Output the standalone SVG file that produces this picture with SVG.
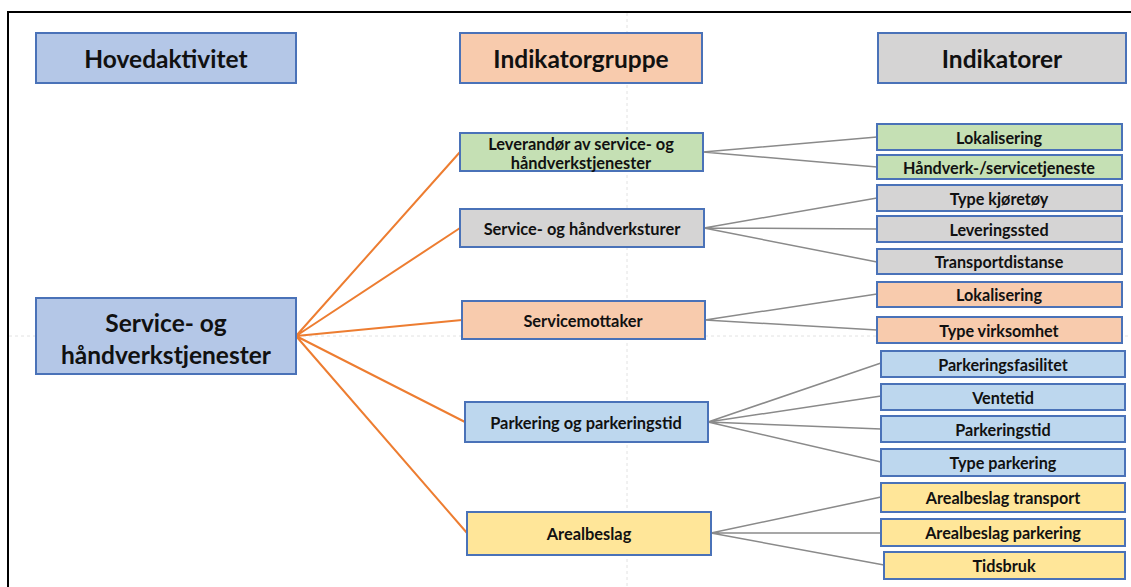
<svg xmlns="http://www.w3.org/2000/svg" width="1131" height="587" viewBox="0 0 1131 587">
<style>
.box{stroke:#4a72b8;stroke-width:2}
.blue{fill:#b4c7e7}.lblue{fill:#bdd7ee}.orange{fill:#f8cbad}.gray{fill:#d5d4d4}.green{fill:#c5e0b4}.yellow{fill:#ffe699}
text{font-family:Lato,"Liberation Sans",sans-serif;font-weight:700;fill:#111;text-anchor:middle;dominant-baseline:central}
.h{font-size:24.5px;font-weight:700}
.m{font-size:24.5px}
.g{font-size:16.4px}
.i{font-size:16.2px}
.oc{stroke:#ed7d31;stroke-width:2;fill:none}
.gc{stroke:#8a8a8a;stroke-width:1.5;fill:none}
.guide{stroke:#e2e2e2;stroke-width:1;stroke-dasharray:3 3}
</style>
<rect width="1131" height="587" fill="#fff"/>
<g id="guides">
<line class="guide" x1="627" y1="13" x2="627" y2="587"/>
<line class="guide" x1="9" y1="336" x2="1131" y2="336"/>
</g>
<path d="M8,587 V12 H1131" fill="none" stroke="#000" stroke-width="2"/>
<g id="connectors">
<path class="oc" d="M296,336 L460,152 M296,336 L460,228 M296,336 L462,320 M296,336 L465,422 M296,336 L467,533"/>
<path class="gc" d="M703,152 L877,137 M703,152 L877,167"/>
<path class="gc" d="M704,228 L877,198 M704,228 L877,229 M704,228 L877,262"/>
<path class="gc" d="M705,320 L877,294 M705,320 L877,330"/>
<path class="gc" d="M708,422 L881,363 M708,422 L881,396 M708,422 L881,429 M708,422 L881,462"/>
<path class="gc" d="M711,533 L881,497 M711,533 L881,533 M711,533 L884,565"/>
</g>
<g id="hdr1"><rect class="box blue" x="36" y="33" width="260" height="50"/><text class="h" x="166" y="58">Hovedaktivitet</text></g>
<g id="hdr2"><rect class="box orange" x="460" y="33" width="242" height="50"/><text class="h" x="581" y="58">Indikatorgruppe</text></g>
<g id="hdr3"><rect class="box gray" x="878" y="33" width="248" height="50"/><text class="h" x="1002" y="58">Indikatorer</text></g>
<g id="main"><rect class="box blue" x="36" y="298" width="260" height="76"/><text class="m" x="166" y="322">Service- og</text><text class="m" x="166" y="354">håndverkstjenester</text></g>
<g id="grp1"><rect class="box green" x="460" y="133" width="243" height="38"/><text class="g" x="581" y="143">Leverandør av service- og</text><text class="g" x="581" y="162">håndverkstjenester</text></g>
<g id="grp2"><rect class="box gray" x="460" y="209" width="244" height="38"/><text class="g" x="582" y="228">Service- og håndverksturer</text></g>
<g id="grp3"><rect class="box orange" x="462" y="301" width="243" height="38"/><text class="g" x="583" y="320">Servicemottaker</text></g>
<g id="grp4"><rect class="box lblue" x="465" y="402" width="243" height="40"/><text class="g" x="586" y="422">Parkering og parkeringstid</text></g>
<g id="grp5"><rect class="box yellow" x="467" y="512" width="244" height="43"/><text class="g" x="589" y="533">Arealbeslag</text></g>
<g id="i1"><rect class="box green" x="877" y="124" width="245" height="26"/><text class="i" x="999" y="137">Lokalisering</text></g>
<g id="i2"><rect class="box green" x="877" y="155" width="245" height="24"/><text class="i" x="999" y="167">Håndverk-/servicetjeneste</text></g>
<g id="i3"><rect class="box gray" x="877" y="185" width="245" height="26"/><text class="i" x="999" y="198">Type kjøretøy</text></g>
<g id="i4"><rect class="box gray" x="877" y="216" width="245" height="26"/><text class="i" x="999" y="229">Leveringssted</text></g>
<g id="i5"><rect class="box gray" x="877" y="249" width="245" height="25"/><text class="i" x="999" y="261">Transportdistanse</text></g>
<g id="i6"><rect class="box orange" x="877" y="282" width="245" height="25"/><text class="i" x="999" y="294">Lokalisering</text></g>
<g id="i7"><rect class="box orange" x="877" y="317" width="245" height="26"/><text class="i" x="999" y="330">Type virksomhet</text></g>
<g id="i8"><rect class="box lblue" x="881" y="351" width="244" height="26"/><text class="i" x="1003" y="364">Parkeringsfasilitet</text></g>
<g id="i9"><rect class="box lblue" x="881" y="384" width="244" height="26"/><text class="i" x="1003" y="397">Ventetid</text></g>
<g id="i10"><rect class="box lblue" x="881" y="416" width="244" height="26"/><text class="i" x="1003" y="429">Parkeringstid</text></g>
<g id="i11"><rect class="box lblue" x="881" y="449" width="244" height="27"/><text class="i" x="1003" y="462">Type parkering</text></g>
<g id="i12"><rect class="box yellow" x="881" y="483" width="244" height="29"/><text class="i" x="1003" y="497">Arealbeslag transport</text></g>
<g id="i13"><rect class="box yellow" x="881" y="519" width="244" height="27"/><text class="i" x="1003" y="532">Arealbeslag parkering</text></g>
<g id="i14"><rect class="box yellow" x="884" y="552" width="241" height="27"/><text class="i" x="1004" y="565">Tidsbruk</text></g>
</svg>
